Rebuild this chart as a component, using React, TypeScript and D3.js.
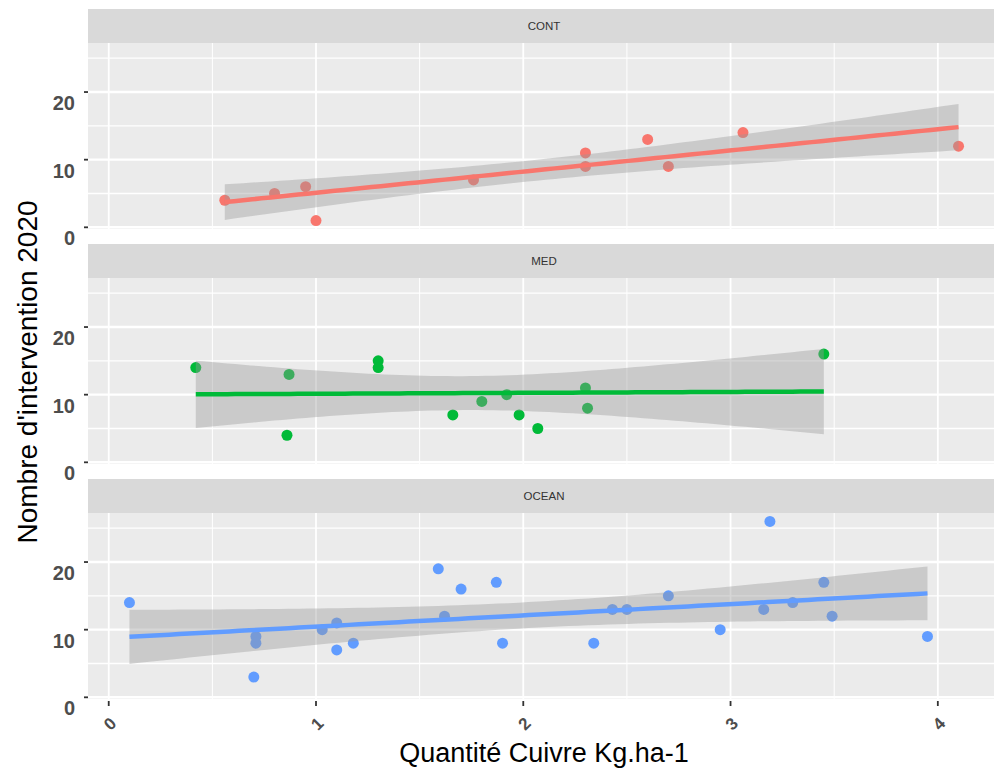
import React from 'react';
import * as d3 from 'd3';

// Facets and their colours
const facets = ['CONT', 'MED', 'OCEAN'];
const colors = ['#F8766D', '#00BA38', '#619CFF'];

// Copper quantity (x) and number of interventions (y), per facet
const contX = [0.56, 0.80, 0.95, 1.00, 1.76, 2.30, 2.30, 2.60, 2.70, 3.06, 4.10];
const contY = [4, 5, 6, 1, 7, 11, 9, 13, 9, 14, 12];
const medX = [0.42, 0.87, 0.86, 1.30, 1.30, 1.66, 1.80, 1.92, 1.98, 2.07, 2.30, 2.31, 3.45];
const medY = [14, 13, 4, 15, 14, 7, 9, 10, 7, 5, 11, 8, 16];
const oceanX = [0.10, 0.71, 0.71, 0.70, 1.03, 1.10, 1.10, 1.18, 1.59, 1.62, 1.70, 1.87, 1.90, 2.34, 2.43, 2.50, 2.70, 2.95, 3.16, 3.19, 3.30, 3.45, 3.49, 3.95];
const oceanY = [14, 9, 8, 3, 10, 11, 7, 8, 19, 12, 16, 17, 8, 8, 13, 13, 15, 10, 13, 26, 14, 17, 12, 9];

const xTicks = [0, 1, 2, 3, 4];
const xMinor = [0.5, 1.5, 2.5, 3.5];
const yTicks = [0, 10, 20];
const yMinor = [5, 15, 25];

const groups = [
  { name: facets[0], color: colors[0], xs: contX, ys: contY },
  { name: facets[1], color: colors[1], xs: medX, ys: medY },
  { name: facets[2], color: colors[2], xs: oceanX, ys: oceanY },
];

const W = 994;
const H = 772;
const left = 88;
const right = 1000;
const firstTop = 43;
const panelH = 186;
const step = 235;
const stripH = 34;
const font = '"Liberation Sans", Arial, Helvetica, sans-serif';

// 97.5% Student t quantile (Cornish-Fisher expansion)
function tQuant(df: number) {
  const z = 1.959964;
  const z3 = z ** 3, z5 = z ** 5, z7 = z ** 7;
  return z + (z3 + z) / (4 * df) + (5 * z5 + 16 * z3 + 3 * z) / (96 * df * df)
    + (3 * z7 + 19 * z5 + 17 * z3 - 15 * z) / (384 * df ** 3);
}

function fitLm(xs: number[], ys: number[]) {
  const n = xs.length;
  const mx = d3.mean(xs)!;
  const my = d3.mean(ys)!;
  let sxx = 0, sxy = 0;
  xs.forEach((x, i) => { sxx += (x - mx) ** 2; sxy += (x - mx) * (ys[i] - my); });
  const b = sxy / sxx;
  const a = my - b * mx;
  let sse = 0;
  xs.forEach((x, i) => { sse += (ys[i] - (a + b * x)) ** 2; });
  const s = Math.sqrt(sse / (n - 2));
  const t = tQuant(n - 2);
  const [x0, x1] = d3.extent(xs) as [number, number];
  const pts = d3.range(81).map(i => {
    const x = x0 + (i * (x1 - x0)) / 80;
    const fit = a + b * x;
    const se = s * Math.sqrt(1 / n + (x - mx) ** 2 / sxx);
    return { x, fit, lo: fit - t * se, hi: fit + t * se };
  });
  return pts;
}

function expand(ext: [number, number]): [number, number] {
  const r = ext[1] - ext[0];
  return [ext[0] - 0.05 * r, ext[1] + 0.05 * r];
}

export default function App() {
  const allX = groups.flatMap(g => g.xs);
  const allY = groups.flatMap(g => g.ys);
  const x = d3.scaleLinear().domain(expand(d3.extent(allX) as [number, number])).range([left, right]);
  const yDom = expand(d3.extent(allY) as [number, number]);

  const lastBottom = firstTop + 2 * step + panelH;

  return (
    <svg width={W} height={H} style={{ position: 'absolute', left: 0, top: 0, background: '#fff' }}
      fontFamily={font}>
      <rect width={W} height={H} fill="#fff" />
      {groups.map((g, gi) => {
        const top = firstTop + gi * step;
        const bottom = top + panelH;
        const y = d3.scaleLinear().domain(yDom).range([bottom, top]);
        const pts = fitLm(g.xs, g.ys);
        const band = d3.area<any>().x(d => x(d.x)).y0(d => y(d.lo)).y1(d => y(d.hi))(pts)!;
        const line = d3.line<any>().x(d => x(d.x)).y(d => y(d.fit))(pts)!;
        return (
          <g key={g.name}>
            <rect x={left} y={top - stripH} width={right - left} height={stripH} fill="#D9D9D9" />
            <text x={(left + right) / 2} y={top - stripH / 2 + 4} textAnchor="middle" fontSize={11.5} fill="#333">{g.name}</text>
            <rect x={left} y={top} width={right - left} height={panelH} fill="#EBEBEB" />
            {yMinor.filter(v => v >= yDom[0] && v <= yDom[1]).map(v => (
              <line key={'ym' + v} x1={left} x2={right} y1={y(v)} y2={y(v)} stroke="#fff" strokeWidth={1.3} />
            ))}
            {xMinor.map(v => (
              <line key={'xm' + v} x1={x(v)} x2={x(v)} y1={top} y2={bottom} stroke="#fff" strokeWidth={1} />
            ))}
            {yTicks.map(v => (
              <line key={'yM' + v} x1={left} x2={right} y1={y(v)} y2={y(v)} stroke="#fff" strokeWidth={2.4} />
            ))}
            {xTicks.map(v => (
              <line key={'xM' + v} x1={x(v)} x2={x(v)} y1={top} y2={bottom} stroke="#fff" strokeWidth={1.8} />
            ))}
            {g.xs.map((xv, i) => (
              <circle key={i} cx={x(xv)} cy={y(g.ys[i])} r={5.5} fill={g.color} />
            ))}
            <path d={band} fill="#999999" fillOpacity={0.4} />
            <path d={line} fill="none" stroke={g.color} strokeWidth={4.5} />
            {yTicks.map(v => (
              <g key={'yt' + v}>
                <line x1={left - 4} x2={left} y1={y(v)} y2={y(v)} stroke="#333" strokeWidth={1.8} />
                <text x={75} y={y(v) + 18} textAnchor="end" fontSize={20} fontWeight="bold" fill="#4D4D4D">{v}</text>
              </g>
            ))}
          </g>
        );
      })}
      {xTicks.map(v => (
        <g key={'xt' + v}>
          <line x1={x(v)} x2={x(v)} y1={lastBottom + 2} y2={lastBottom + 7} stroke="#333" strokeWidth={1.8} />
          <text x={0} y={0} transform={`translate(${x(v) + 1.5},${724}) rotate(-45)`} textAnchor="middle"
            dominantBaseline="central" fontSize={17} fontWeight="bold" fill="#4D4D4D">{v}</text>
        </g>
      ))}
      <text x={(left + right) / 2} y={762} textAnchor="middle" fontSize={27} fill="#000">Quantité Cuivre Kg.ha-1</text>
      <text transform={`translate(37,372) rotate(-90)`} textAnchor="middle" fontSize={28} fill="#000">Nombre d'intervention 2020</text>
    </svg>
  );
}
